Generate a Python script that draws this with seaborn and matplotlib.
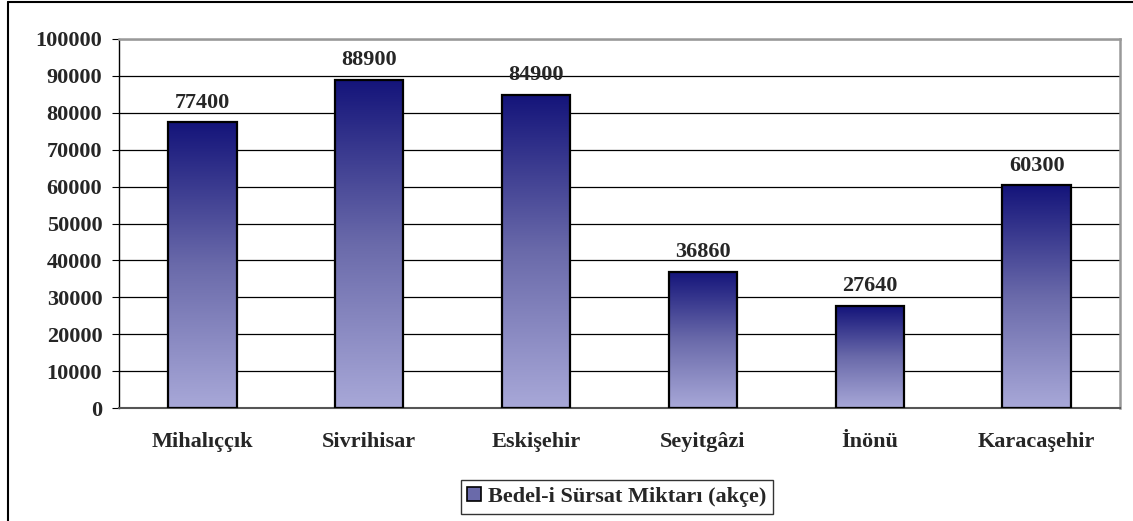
import numpy as np
import pandas as pd
import matplotlib
matplotlib.use("Agg")
import matplotlib.pyplot as plt
import seaborn as sns
from matplotlib.colors import LinearSegmentedColormap
from matplotlib.lines import Line2D
from matplotlib.patches import Patch

# data
districts = ["Mihalıççık", "Sivrihisar", "Eskişehir", "Seyitgâzi", "İnönü", "Karacaşehir"]
amounts = [77400, 88900, 84900, 36860, 27640, 60300]
series_name = "Bedel-i Sürsat Miktarı (akçe)"
yticks = [0, 10000, 20000, 30000, 40000, 50000, 60000, 70000, 80000, 90000, 100000]

df = pd.DataFrame({"District": districts, "Amount": amounts})

sns.set_style("white")
plt.rcParams['font.family'] = ['Liberation Serif', 'DejaVu Serif']
plt.rcParams['font.weight'] = 'bold'

fig = plt.figure(figsize=(11.33, 5.21), dpi=100)
ax = fig.add_axes([119/1133, 1 - 408/521, (1120 - 119)/1133, (408 - 39)/521])

sns.barplot(data=df, x="District", y="Amount", ax=ax, width=0.41,
            color="#5a5a9a", edgecolor="black", linewidth=1.6, zorder=3)

# vertical gradient inside every bar (dark navy top -> lavender bottom)
cmap = LinearSegmentedColormap.from_list("bar", ["#a8a8d8", "#6a6aaa", "#14147a"])
grad = np.linspace(0, 1, 256).reshape(-1, 1)
for p in ax.patches:
    x0, y0 = p.get_x(), p.get_y()
    w, h = p.get_width(), p.get_height()
    im = ax.imshow(grad, cmap=cmap, aspect="auto", origin="lower",
                   extent=[x0, x0 + w, y0, y0 + h], zorder=2)
    im.set_clip_path(p)
    p.set_facecolor("none")

ax.set_xlim(-0.5, len(districts) - 0.5)
ax.set_ylim(0, 100000)

# value labels
for i, v in enumerate(amounts):
    ax.annotate(str(v), (i, v), xytext=(0, 10.5), textcoords="offset points",
                ha="center", va="baseline", fontsize=16, fontweight="bold")

# axes styling
ax.set_yticks(yticks)
ax.set_yticklabels([str(t) for t in yticks], fontsize=16, fontweight="bold")
ax.set_xticks(np.arange(-0.5, len(districts), 1.0))
ax.set_xticklabels([])
ax.set_xticks(np.arange(len(districts)), minor=True)
ax.set_xticklabels(districts, minor=True, fontsize=16, fontweight="bold")
ax.tick_params(axis="x", which="minor", length=0, pad=17)
ax.tick_params(axis="x", which="major", direction="out", length=6, width=0.8, color="black")
ax.tick_params(axis="y", direction="out", length=5, width=0.8, color="black", pad=7, left=True)
ax.set_xlabel("")
ax.set_ylabel("")

ax.yaxis.grid(True, color="black", linewidth=0.9)
ax.set_axisbelow(True)
ax.spines["left"].set_color("black")
ax.spines["left"].set_linewidth(1.0)
ax.spines["bottom"].set_color("#555555")
ax.spines["bottom"].set_linewidth(1.5)
for s in ["top", "right"]:
    ax.spines[s].set_color("#999999")
    ax.spines[s].set_linewidth(1.8)

# legend
handle = Patch(facecolor="#6a6aaa", edgecolor="black", linewidth=1.2)
leg = fig.legend([handle], [series_name], loc="center",
                 bbox_to_anchor=(617/1133, 1 - 497/521), frameon=True,
                 fancybox=False, edgecolor="black", fontsize=16,
                 handlelength=0.6, handleheight=0.6, handletextpad=0.35,
                 borderpad=0.3, borderaxespad=0)
leg.get_frame().set_linewidth(1.0)

# outer chart frame (left and top edges visible)
fig.add_artist(Line2D([8/1133, 8/1133], [0, 1 - 2/521], color="black", linewidth=1.5,
                      transform=fig.transFigure))
fig.add_artist(Line2D([8/1133, 1], [1 - 2/521, 1 - 2/521], color="black", linewidth=1.5,
                      transform=fig.transFigure))

fig.savefig("out.png", dpi=100)
